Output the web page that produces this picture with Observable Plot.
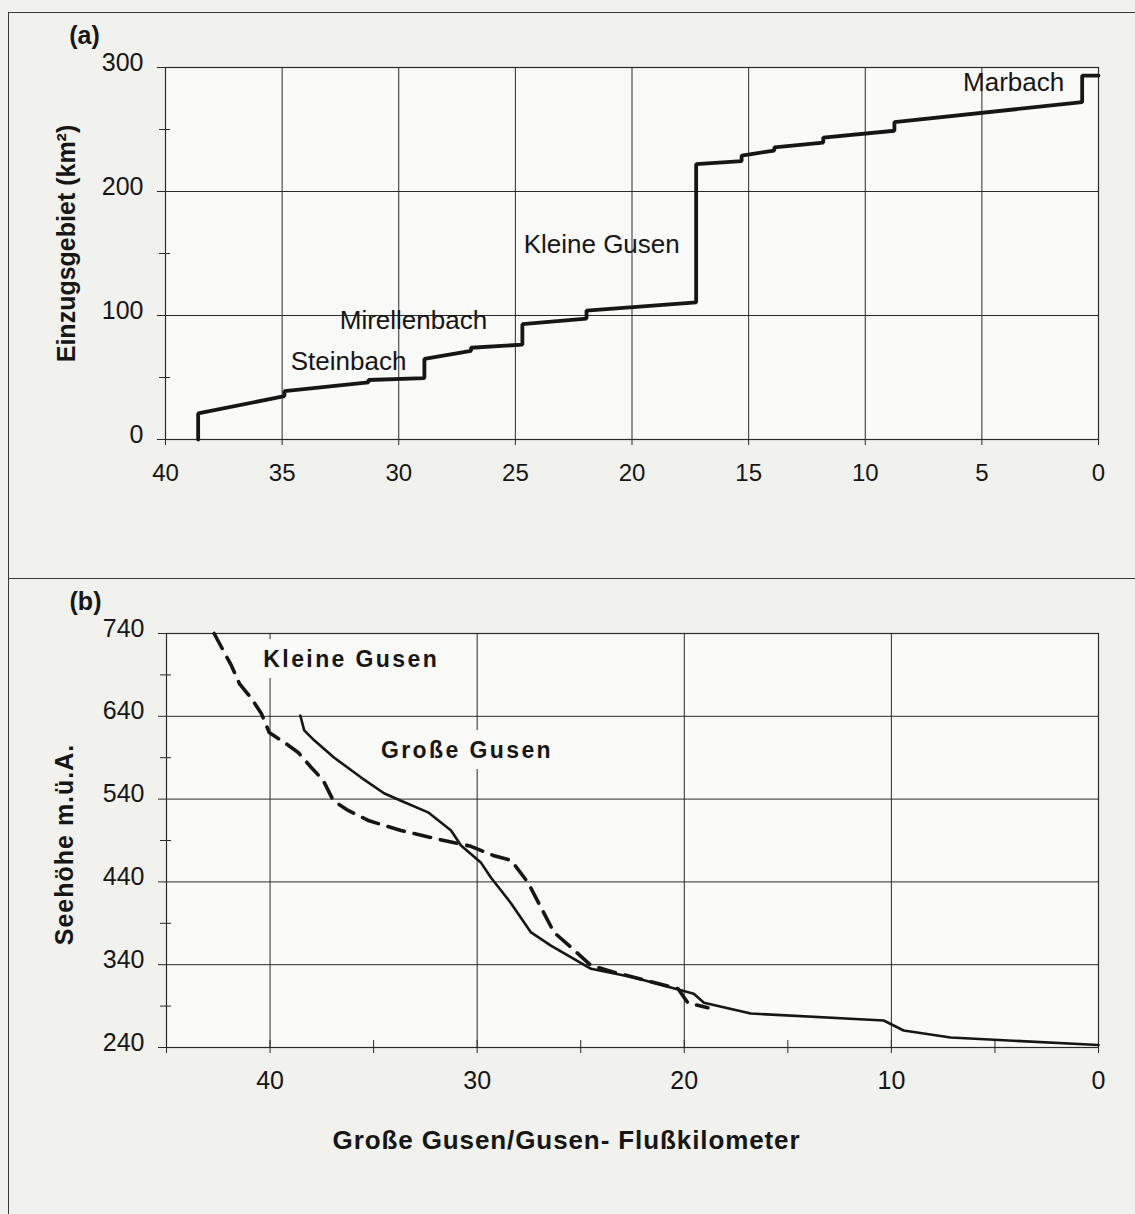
<!DOCTYPE html>
<html>
<head>
<meta charset="utf-8">
<script src="https://cdn.jsdelivr.net/npm/d3@7"></script>
<script src="https://cdn.jsdelivr.net/npm/@observablehq/plot@0.6"></script>
<style>
  body { margin: 0; background: #f1f1ed; }
  #page { position: relative; width: 1135px; height: 1214px; overflow: hidden; background: #f1f1ed;
          font-family: "Liberation Sans", Arial, sans-serif; }
  .box { position: absolute; border: 0 solid #3a3a3a; }
  #chartA { position: absolute; left: 0; top: 0; }
  #chartB { position: absolute; left: 0; top: 578px; }
</style>
</head>
<body>
<div id="page">
  <div class="box" style="left:8px; top:12px; width:1200px; height:566px; border-left-width:1.5px; border-top-width:1.5px;"></div>
  <div class="box" style="left:8px; top:578px; width:1200px; height:700px; border-left-width:1.5px; border-top-width:1.5px;"></div>
  <div id="chartA"></div>
  <div id="chartB"></div>
</div>
<script>
// (a) Einzugsgebiet entlang der Großen Gusen / Gusen (km² über Flusskilometer)
const kmA   = [38.6, 38.6, 34.9, 34.9, 31.3, 31.3, 28.9, 28.9, 26.9, 26.9, 24.7, 24.7, 21.95, 21.95, 17.25, 17.25, 15.3, 15.3, 13.9, 13.9, 11.8, 11.8, 8.75, 8.75, 0.7, 0.7, 0];
const areaA = [0, 21, 35, 39, 46, 48, 49.5, 65, 71.5, 74, 76.5, 93, 97.5, 104, 110.5, 222, 224.5, 229, 233, 235.5, 239.5, 243.5, 249, 256, 272, 293.5, 293.5];

// Zubringer-Beschriftungen (a)
const tribNames = ["Marbach", "Kleine Gusen", "Mirellenbach", "Steinbach"];
const tribKm    = [3.64, 21.3, 29.37, 32.15];
const tribArea  = [288, 157, 96, 63];

const yTicksA      = [0, 100, 200, 300];
const yMinorTicksA = [50, 150, 250];
const xTicksA      = [40, 35, 30, 25, 20, 15, 10, 5, 0];

// (b) Längenprofile: Seehöhe über Flusskilometer
const kmGross    = [38.54, 38.35, 37.87, 36.9, 35.6, 34.5, 33.68, 32.37, 31.26, 30.78, 29.81, 29.33, 28.36, 27.4, 26.44, 24.5, 22.43, 19.54, 19.05, 16.79, 10.37, 9.41, 7.14, 0];
const hoeheGross = [641, 623, 611, 590, 566, 547, 538, 524, 502, 484, 463, 445, 414, 379, 363, 335, 324.5, 305, 294, 281, 272.6, 260.5, 252, 243];

const kmKlein    = [42.7, 42.26, 41.87, 41.48, 40.9, 40.42, 40.04, 39.31, 38.64, 38.01, 37.43, 36.95, 36.23, 35.26, 33.68, 31.6, 30.3, 29.23, 28.36, 27.54, 26.77, 26.29, 25.47, 24.5, 23.4, 20.3, 19.83, 18.86];
const hoeheKlein = [740, 719.5, 701.4, 679.6, 661.5, 643.4, 620.5, 608.4, 596.3, 578.2, 562.5, 538.3, 526.3, 514.2, 502, 490, 483, 472, 466, 439, 402, 379, 361, 339, 331, 311, 294, 288];

const riverNames = ["Kleine Gusen", "Große Gusen"];
const riverKm    = [36.08, 30.49];
const riverHoehe = [708.6, 598.7];

const yTicksB      = [240, 340, 440, 540, 640, 740];
const yMinorTicksB = [290, 390, 490, 590, 690];
const xTicksB      = [40, 30, 20, 10, 0];
const xAllTicksB   = [45, 40, 35, 30, 25, 20, 15, 10, 5, 0];

const titleA  = "Einzugsgebiet (km²)";
const titleBy = "Seehöhe m.ü.A.";
const titleBx = "Große Gusen/Gusen- Flußkilometer";

const ink = "#161616";
const gridInk = "#2a2a2a";
const paper = "#fafaf8";
const font = "Liberation Sans, Arial, sans-serif";

const chartA = Plot.plot({
  width: 1135, height: 520,
  marginLeft: 165, marginRight: 37, marginTop: 67, marginBottom: 81,
  style: { background: "transparent", fontFamily: font, color: ink, overflow: "visible" },
  x: { domain: [40, 0], label: null },
  y: { domain: [0, 300], label: null },
  marks: [
    Plot.frame({ fill: paper, stroke: null }),
    Plot.gridX(xTicksA.filter(d => d > 0 && d < 40), { stroke: gridInk, strokeOpacity: 1, strokeWidth: 1 }),
    Plot.gridY(yTicksA.filter(d => d > 0 && d < 300), { stroke: gridInk, strokeOpacity: 1, strokeWidth: 1 }),
    Plot.frame({ stroke: gridInk, strokeWidth: 1.2 }),
    Plot.axisY({ ticks: yTicksA, tickSize: 8, fill: "none", stroke: gridInk }),
    Plot.axisY({ ticks: yMinorTicksA, tickSize: 11, dx: 5, fill: "none", stroke: gridInk }),
    Plot.axisY({ ticks: yTicksA, tickSize: 0, tickPadding: 22, dy: -5, fontSize: 25, stroke: "none", fill: ink }),
    Plot.axisX({ ticks: xTicksA, tickSize: 6, fill: "none", stroke: gridInk }),
    Plot.axisX({ ticks: xTicksA, tickSize: 0, tickPadding: 24, fontSize: 24, stroke: "none", fill: ink }),
    Plot.line(areaA, { x: kmA, y: areaA, stroke: ink, strokeWidth: 3.8, strokeLinejoin: "miter" }),
    Plot.text(tribNames, { x: tribKm, y: tribArea, text: d => d, fontSize: 26, fill: ink }),
    Plot.text(["(a)"], { frameAnchor: "top-left", textAnchor: "middle", lineAnchor: "middle",
      dx: -81, dy: -32, fontSize: 25, fontWeight: "bold", fill: ink }),
    Plot.text([titleA], { frameAnchor: "left", textAnchor: "middle", lineAnchor: "middle", rotate: -90,
      dx: -99, dy: -10, fontSize: 25, fontWeight: "bold", fill: ink })
  ]
});

const chartB = Plot.plot({
  width: 1135, height: 636,
  marginLeft: 166, marginRight: 37, marginTop: 55, marginBottom: 167,
  style: { background: "transparent", fontFamily: font, color: ink, overflow: "visible" },
  x: { domain: [45, 0], label: null },
  y: { domain: [240, 740], label: null },
  marks: [
    Plot.frame({ fill: paper, stroke: null }),
    Plot.gridX(xTicksB.filter(d => d > 0), { stroke: gridInk, strokeOpacity: 1, strokeWidth: 1 }),
    Plot.gridY(yTicksB.filter(d => d > 240 && d < 740), { stroke: gridInk, strokeOpacity: 1, strokeWidth: 1 }),
    Plot.frame({ stroke: gridInk, strokeWidth: 1.2 }),
    Plot.axisY({ ticks: yTicksB, tickSize: 8, fill: "none", stroke: gridInk }),
    Plot.axisY({ ticks: yMinorTicksB, tickSize: 11, dx: 5, fill: "none", stroke: gridInk }),
    Plot.axisY({ ticks: yTicksB, tickSize: 0, tickPadding: 22, dy: -5, fontSize: 25, stroke: "none", fill: ink }),
    Plot.axisX({ ticks: xAllTicksB, tickSize: 13, dy: -7, fill: "none", stroke: gridInk }),
    Plot.axisX({ ticks: xTicksB, tickSize: 0, tickPadding: 24, fontSize: 25, stroke: "none", fill: ink }),
    // Flussnamen mit Hintergrund, der die Gitterlinien abdeckt
    Plot.text(riverNames, { x: riverKm, y: riverHoehe, text: d => d, fontSize: 23, fontWeight: "bold",
      fill: ink, stroke: paper, strokeWidth: 22 }),
    Plot.line(hoeheKlein, { x: kmKlein, y: hoeheKlein, stroke: ink, strokeWidth: 3.6, strokeDasharray: "17,10" }),
    Plot.line(hoeheGross, { x: kmGross, y: hoeheGross, stroke: ink, strokeWidth: 2.6 }),
    Plot.text(["(b)"], { frameAnchor: "top-left", textAnchor: "middle", lineAnchor: "middle",
      dx: -81, dy: -32, fontSize: 25, fontWeight: "bold", fill: ink }),
    Plot.text([titleBy], { frameAnchor: "left", textAnchor: "middle", lineAnchor: "middle", rotate: -90,
      dx: -102, dy: 4, fontSize: 25, fontWeight: "bold", fill: ink }),
    Plot.text([titleBx], { frameAnchor: "bottom-left", textAnchor: "middle", lineAnchor: "middle",
      dx: 400, dy: 93, fontSize: 26, fontWeight: "bold", fill: ink })
  ]
});

document.getElementById("chartA").append(chartA);
document.getElementById("chartB").append(chartB);

// Gesperrte Schrift für die fetten Beschriftungen in (b)
const spacing = new Map([[riverNames[0], "2.4px"], [riverNames[1], "2.4px"], [titleBx, "0.9px"], [titleBy, "1px"]]);
d3.select(chartB).selectAll("text")
  .filter(function () { return spacing.has(this.textContent); })
  .style("letter-spacing", function () { return spacing.get(this.textContent); });
</script>
</body>
</html>
